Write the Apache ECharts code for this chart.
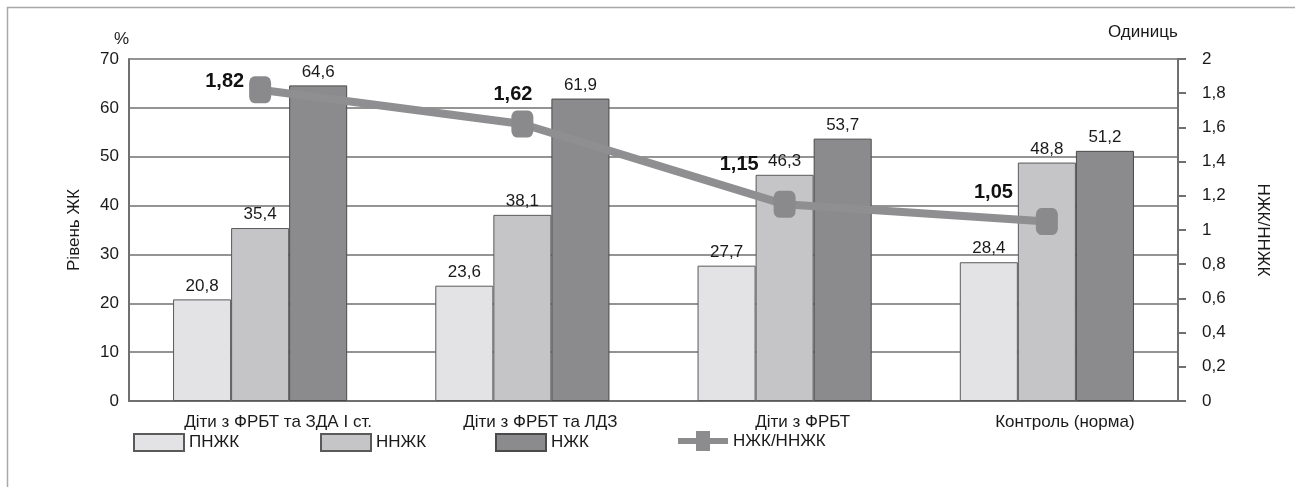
<!DOCTYPE html>
<html><head><meta charset="utf-8">
<script src="https://cdn.jsdelivr.net/npm/echarts@6/dist/echarts.min.js"></script>
<style>html,body{margin:0;padding:0;background:#fff}#c{width:1295px;height:487px}</style>
</head><body><div id="c"></div>
<script>
const categories = ['Діти з ФРБТ та ЗДА І ст.', 'Діти з ФРБТ та ЛДЗ', 'Діти з ФРБТ', 'Контроль (норма)'];
const pnzhk = [20.8, 23.6, 27.7, 28.4];
const nnzhk = [35.4, 38.1, 46.3, 48.8];
const nzhk = [64.6, 61.9, 53.7, 51.2];
const ratio = [1.82, 1.62, 1.15, 1.05];
const seriesNames = ['ПНЖК', 'ННЖК', 'НЖК', 'НЖК/ННЖК'];
// label placement (style only)
const ratioLabelOffsets = [[0, -8], [26, -29], [-10, -40], [-18, -29]];

const FONT = 'Liberation Sans, Arial, sans-serif';
const TXT = '#1a1a1a';
const comma = v => String(v).replace('.', ',');
const chart = echarts.init(document.getElementById('c'));
const barLabel = {show: true, position: 'top', fontSize: 17, color: TXT, fontFamily: FONT, distance: 5,
  formatter: p => comma(p.value)};
const legendBase = {top: 428, itemWidth: 50, itemHeight: 17, textStyle: {fontSize: 17, color: TXT, fontFamily: FONT}, itemGap: 4, selectedMode: false};
const lineIcon = 'path://M0,7H18V0H32V7H50V13H32V20H18V13H0Z';
chart.setOption({
  animation: false,
  textStyle: {fontFamily: FONT},
  grid: {left: 129, right: 117, top: 59, bottom: 86},
  graphic: [
    {type: 'rect', shape: {x: 7.5, y: 7.5, width: 1400, height: 600}, style: {fill: 'none', stroke: '#a8a8a8', lineWidth: 1.5}, silent: true},
    {type: 'text', left: 114, top: 31, style: {text: '%', fontSize: 17, fill: TXT, fontFamily: FONT}},
    {type: 'text', left: 1108, top: 24, style: {text: 'Одиниць', fontSize: 17, fill: TXT, fontFamily: FONT}}
  ],
  legend: [
    Object.assign({}, legendBase, {left: 128, data: [{name: seriesNames[0], icon: 'rect'}]}),
    Object.assign({}, legendBase, {left: 315, data: [{name: seriesNames[1], icon: 'rect'}]}),
    Object.assign({}, legendBase, {left: 490, data: [{name: seriesNames[2], icon: 'rect'}]}),
    Object.assign({}, legendBase, {left: 673, top: 426, itemHeight: 21, data: [{name: seriesNames[3], icon: lineIcon,
      itemStyle: {color: '#8c8c8f', borderWidth: 0}}]})
  ],
  xAxis: {
    type: 'category', data: categories,
    axisLine: {lineStyle: {color: '#707070', width: 2}},
    axisTick: {show: false},
    axisLabel: {fontSize: 17, color: TXT, margin: 13, fontFamily: FONT, padding: [0, 0, 0, 36]}
  },
  yAxis: [
    {type: 'value', min: 0, max: 70, interval: 10, name: 'Рівень ЖК', nameLocation: 'middle', nameGap: 46,
     nameTextStyle: {fontSize: 17, color: TXT, fontFamily: FONT},
     axisLine: {show: true, lineStyle: {color: '#707070', width: 2}}, axisTick: {show: false},
     axisLabel: {fontSize: 17, color: TXT, margin: 10, fontFamily: FONT},
     splitLine: {lineStyle: {color: '#707070', width: 1.5}}},
    {type: 'value', min: 0, max: 2, interval: 0.2, position: 'right', name: 'НЖК/ННЖК', nameLocation: 'middle', nameGap: 76, nameRotate: -90,
     nameTextStyle: {fontSize: 17, color: TXT, fontFamily: FONT},
     axisLine: {show: true, lineStyle: {color: '#707070', width: 2}},
     axisTick: {show: true, length: 8, lineStyle: {color: '#707070', width: 2}},
     axisLabel: {fontSize: 17, color: TXT, margin: 24, fontFamily: FONT, formatter: v => comma(+v.toFixed(1))},
     splitLine: {show: false}}
  ],
  series: [
    {name: seriesNames[0], type: 'bar', data: pnzhk, barGap: '0%', barCategoryGap: '33.6%',
     itemStyle: {color: '#e3e3e5', borderColor: '#5a5a5a', borderWidth: 1}, label: barLabel},
    {name: seriesNames[1], type: 'bar', data: nnzhk,
     itemStyle: {color: '#c5c5c7', borderColor: '#5a5a5a', borderWidth: 1}, label: barLabel},
    {name: seriesNames[2], type: 'bar', data: nzhk,
     itemStyle: {color: '#8b8b8e', borderColor: '#4a4a4a', borderWidth: 1}, label: barLabel},
    {name: seriesNames[3], type: 'line', yAxisIndex: 1,
     data: ratio.map((v, i) => ({value: v, label: {offset: ratioLabelOffsets[i]}})),
     symbol: 'roundRect', symbolSize: [22, 27],
     lineStyle: {color: '#8f8f92', width: 8},
     itemStyle: {color: '#8a8a8d'},
     label: {show: true, position: 'left', distance: 5, fontSize: 20, fontWeight: 'bold', color: '#111', fontFamily: FONT,
       formatter: p => comma(p.value)},
     z: 5}
  ]
});
</script></body></html>
